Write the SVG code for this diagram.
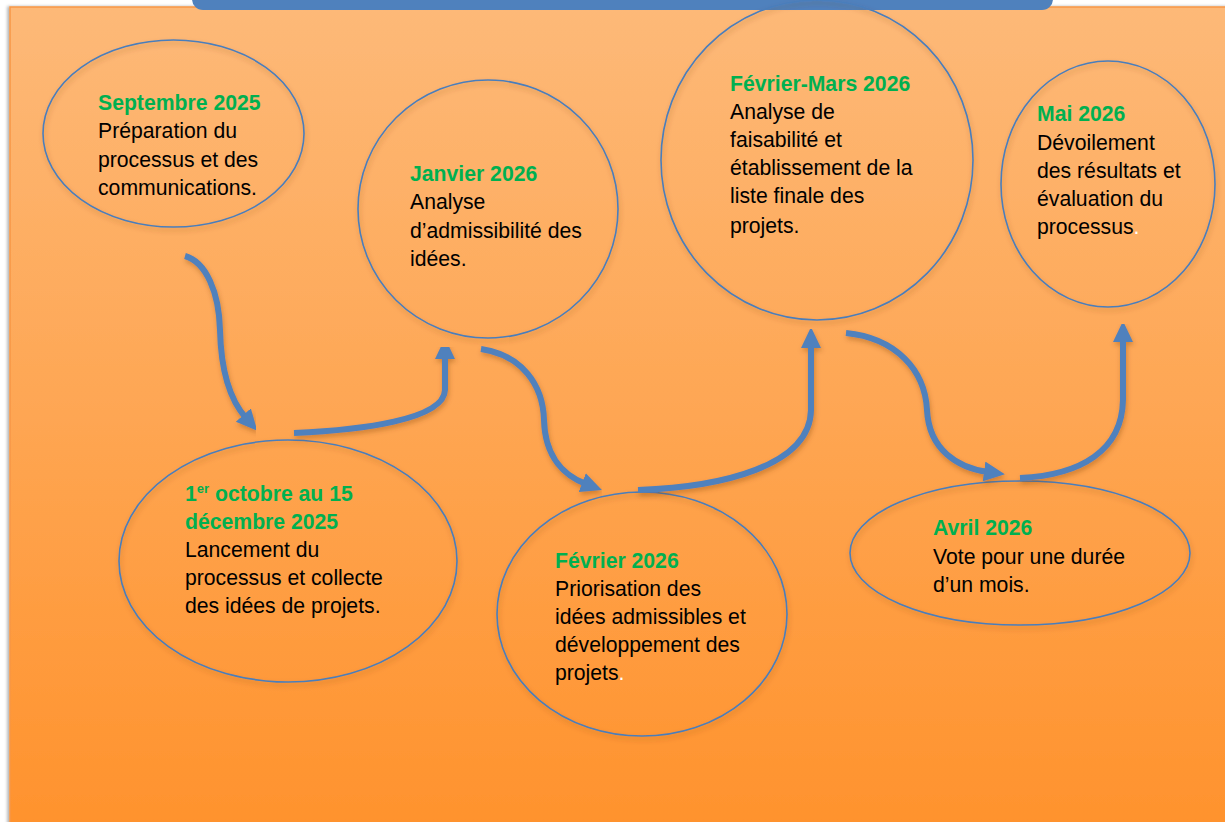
<svg xmlns="http://www.w3.org/2000/svg" width="1225" height="822" viewBox="0 0 1225 822">
<defs>
<linearGradient id="bg" x1="0" y1="0" x2="0" y2="1">
<stop offset="0" stop-color="#FDB978"/>
<stop offset="1" stop-color="#FF922C"/>
</linearGradient>
<filter id="sh" x="-10%" y="-10%" width="125%" height="125%">
<feDropShadow dx="1" dy="3" stdDeviation="2.5" flood-color="#7a3a00" flood-opacity="0.35"/>
</filter>
<filter id="psh" x="-2%" y="-2%" width="104%" height="104%">
<feDropShadow dx="-2" dy="0" stdDeviation="1.5" flood-color="#000" flood-opacity="0.3"/>
</filter>
<marker id="ah" markerUnits="userSpaceOnUse" markerWidth="24" markerHeight="22" refX="4" refY="10" orient="auto">
<path d="M0,0 L21,10 L0,20 Z" fill="#4F81BD"/>
</marker>
<style>
.node ellipse{fill:none;stroke:#4A7EBB;stroke-width:1.6;filter:url(#sh)}
.t{font-family:"Liberation Sans",Arial,sans-serif;font-size:21.2px;fill:#000}
.h{font-weight:bold;fill:#00B050}
.w{fill:#FFFFFF}
.conn path{fill:none;stroke:#4F81BD;stroke-width:6;filter:url(#sh);marker-end:url(#ah)}
</style>
</defs>
<rect x="0" y="0" width="1225" height="822" fill="#FFFFFF"/>
<rect x="10" y="7" width="1230" height="830" fill="url(#bg)" stroke="#F79646" stroke-width="1.5" filter="url(#psh)"/>
<rect x="192" y="-20" width="861" height="30" rx="11" fill="#4F81BD"/>

<g id="n1" class="node">
<ellipse cx="173.5" cy="133.5" rx="130.5" ry="93.5"/>
<text class="t" x="98"><tspan class="h" y="110">Septembre 2025</tspan><tspan x="98" y="138">Préparation du</tspan><tspan x="98" y="166.5">processus et des</tspan><tspan x="98" y="195">communications.</tspan></text>
</g>

<g id="n2" class="node">
<ellipse cx="488" cy="209" rx="130" ry="129"/>
<text class="t" x="410"><tspan class="h" y="181">Janvier 2026</tspan><tspan x="410" y="209">Analyse</tspan><tspan x="410" y="237.5">d’admissibilité des</tspan><tspan x="410" y="266">idées.</tspan></text>
</g>

<g id="n3" class="node">
<ellipse cx="817" cy="160" rx="156" ry="160"/>
<text class="t" x="730"><tspan class="h" y="91">Février-Mars 2026</tspan><tspan x="730" y="119">Analyse de</tspan><tspan x="730" y="147">faisabilité et</tspan><tspan x="730" y="175">établissement de la</tspan><tspan x="730" y="203">liste finale des</tspan><tspan x="730" y="233">projets.</tspan></text>
</g>

<g id="n4" class="node">
<ellipse cx="1108" cy="184" rx="107" ry="123"/>
<text class="t" x="1037"><tspan class="h" y="121">Mai 2026</tspan><tspan x="1037" y="150">Dévoilement</tspan><tspan x="1037" y="178">des résultats et</tspan><tspan x="1037" y="206">évaluation du</tspan><tspan x="1037" y="234">processus</tspan><tspan class="w">.</tspan></text>
</g>

<g id="n5" class="node">
<ellipse cx="288" cy="561" rx="169" ry="121"/>
<text class="t" x="185"><tspan class="h" y="501">1</tspan><tspan class="h" font-size="13" dy="-8">er</tspan><tspan class="h" dy="8"> octobre au 15</tspan><tspan class="h" x="185" y="529">décembre 2025</tspan><tspan x="185" y="557">Lancement du</tspan><tspan x="185" y="585">processus et collecte</tspan><tspan x="185" y="613">des idées de projets.</tspan></text>
</g>

<g id="n6" class="node">
<ellipse cx="642" cy="614" rx="145" ry="122"/>
<text class="t" x="555"><tspan class="h" y="568">Février 2026</tspan><tspan x="555" y="596">Priorisation des</tspan><tspan x="555" y="624">idées admissibles et</tspan><tspan x="555" y="652">développement des</tspan><tspan x="555" y="680">projets</tspan><tspan class="w">.</tspan></text>
</g>

<g id="n7" class="node">
<ellipse cx="1020" cy="553" rx="170" ry="72"/>
<text class="t" x="933"><tspan class="h" y="535">Avril 2026</tspan><tspan x="933" y="564">Vote pour une durée</tspan><tspan x="933" y="592">d’un mois.</tspan></text>
</g>

<g id="connectors" class="conn">
<path d="M185,256 C206,262 219,292 220,330 C221,372 230,400 246,418"/>
<path d="M294,433 C360,430 444,420 445,390 L445,355"/>
<path d="M481,349 C522,355 543,385 544,420 C545,458 565,476 586,484"/>
<path d="M638,490 C722,487 810,466 811,410 L811,344"/>
<path d="M846,333 C896,338 925,370 927,410 C929,450 958,468 988,472"/>
<path d="M1020,478 C1082,475 1122,450 1123,400 L1123,338"/>
</g>
</svg>
